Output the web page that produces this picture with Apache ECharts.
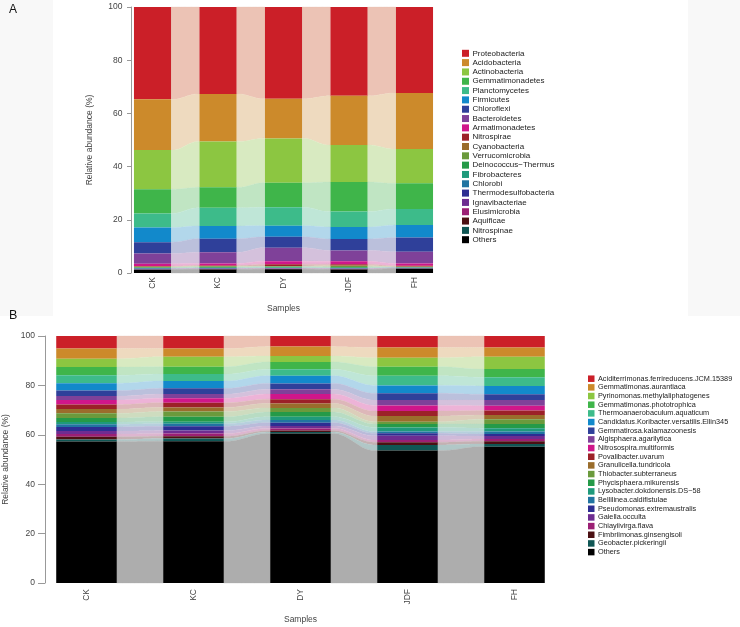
<!DOCTYPE html>
<html><head><meta charset="utf-8">
<script src="https://cdn.jsdelivr.net/npm/echarts@6/dist/echarts.min.js"></script>
<style>html,body{margin:0;padding:0;background:#fff}#c{width:740px;height:627px}</style>
</head><body><div id="c"></div>
<script>
// ---------- data ----------
const samples = ['CK', 'KC', 'DY', 'JDF', 'FH'];
const yTicks = [0, 20, 40, 60, 80, 100];

const phylaNames = ['Proteobacteria', 'Acidobacteria', 'Actinobacteria', 'Gemmatimonadetes', 'Planctomycetes',
  'Firmicutes', 'Chloroflexi', 'Bacteroidetes', 'Armatimonadetes', 'Nitrospirae', 'Cyanobacteria',
  'Verrucomicrobia', 'Deinococcus\u2212Thermus', 'Fibrobacteres', 'Chlorobi', 'Thermodesulfobacteria',
  'Ignavibacteriae', 'Elusimicrobia', 'Aquificae', 'Nitrospinae', 'Others'];
const phylaCK  = [34.7, 19.1, 14.7, 9.1, 5.3, 5.5, 4.3, 3.8, 0.9, 0.2, 0.1, 0.25, 0.2, 0.1, 0.12, 0.08, 0.1, 0.1, 0.05, 0.05, 1.25];
const phylaKC  = [32.7, 17.9, 17.2, 7.7, 6.8, 4.8, 5.1, 4.2, 0.8, 0.2, 0.08, 0.3, 0.25, 0.12, 0.15, 0.08, 0.12, 0.1, 0.05, 0.05, 1.3];
const phylaDY  = [34.5, 14.9, 16.7, 9.2, 6.9, 4.2, 4.1, 5.1, 1.1, 0.7, 0.1, 0.15, 0.3, 0.15, 0.12, 0.08, 0.1, 0.1, 0.05, 0.05, 1.4];
const phylaJDF = [33.4, 18.5, 13.9, 11.1, 5.8, 4.5, 4.3, 4.1, 1.1, 0.5, 0.2, 0.35, 0.3, 0.15, 0.12, 0.08, 0.1, 0.1, 0.05, 0.05, 1.3];
const phylaFH  = [32.3, 21.1, 12.9, 9.6, 6.1, 4.7, 5.3, 4.4, 0.9, 0.3, 0.1, 0.15, 0.1, 0.1, 0.07, 0.05, 0.08, 0.05, 0.05, 0.05, 1.6];

const speciesNames = ['Aciditerrimonas.ferrireducens.JCM.15389', 'Gemmatimonas.aurantiaca',
  'Pyrinomonas.methylaliphatogenes', 'Gemmatimonas.phototrophica', 'Thermoanaerobaculum.aquaticum',
  'Candidatus.Koribacter.versatilis.Ellin345', 'Gemmatirosa.kalamazoonesis', 'Algisphaera.agarilytica',
  'Nitrosospira.multiformis', 'Povalibacter.uvarum', 'Granulicella.tundricola', 'Thiobacter.subterraneus',
  'Phycisphaera.mikurensis', 'Lysobacter.dokdonensis.DS\u221258', 'Bellilinea.caldifistulae',
  'Pseudomonas.extremaustralis', 'Gaiella.occulta', 'Chiayiivirga.flava', 'Fimbriimonas.ginsengisoli',
  'Geobacter.pickeringii', 'Others'];
const speciesCK  = [5.1, 4.1, 3.4, 3.3, 3.2, 3.0, 2.2, 1.6, 1.8, 1.9, 1.7, 1.9, 1.6, 0.9, 1.1, 1.7, 1.2, 1.1, 1.1, 0.8, 57.3];
const speciesKC  = [5.1, 3.3, 4.0, 3.0, 2.8, 3.0, 2.3, 1.7, 1.8, 1.9, 1.7, 2.1, 2.0, 0.8, 1.0, 1.8, 1.2, 1.1, 0.9, 1.1, 57.4];
const speciesDY  = [4.3, 3.8, 2.4, 3.0, 2.6, 3.1, 2.4, 1.9, 2.1, 1.7, 1.8, 1.7, 1.9, 1.3, 1.1, 1.3, 1.0, 0.9, 0.6, 0.6, 60.5];
const speciesJDF = [4.7, 4.1, 3.6, 3.7, 3.9, 3.2, 2.7, 2.2, 2.3, 2.0, 2.3, 0.9, 1.4, 1.7, 0.7, 1.0, 1.7, 0.9, 1.1, 2.3, 53.6];
const speciesFH  = [4.7, 3.7, 5.0, 3.3, 3.5, 3.4, 2.3, 2.3, 2.0, 1.8, 1.7, 1.9, 1.7, 1.4, 1.0, 0.8, 1.2, 0.9, 1.1, 1.1, 55.2];

const layerColors = ['#CB1F28', '#CC8A2B', '#8CC641', '#3FB54A', '#3DBB8A', '#1289CB', '#2F409A', '#7F4199',
  '#D0168A', '#9C2128', '#9A6D2C', '#6B9A3C', '#259A48', '#1F9A7B', '#2174A1', '#2D2E92', '#6E2D91',
  '#9B1F74', '#4B1013', '#0F5654', '#000000'];
// flow (ribbon) tints that deviate from a plain alpha blend
const flowOverride = { 0: '#ECC3B5', 1: '#EEDABF' };

// ---------- helpers ----------
const HALF = 0.283;      // half bar width in category units
const FLOW_ALPHA = 0.31;

function lighten(hex, a) {
  const n = parseInt(hex.slice(1), 16);
  const r = (n >> 16) & 255, g = (n >> 8) & 255, b = n & 255;
  const m = v => Math.round(250 - a * (250 - v));
  return 'rgb(' + m(r) + ',' + m(g) + ',' + m(b) + ')';
}

function bounds(cols) {
  return cols.map(vals => {
    const lo = new Array(vals.length), hi = new Array(vals.length);
    let acc = 0;
    for (let k = vals.length - 1; k >= 0; k--) { lo[k] = acc; acc += vals[k]; hi[k] = acc; }
    return { lo, hi };
  });
}

function buildData(cols) {
  const b = bounds(cols);
  const data = [];
  const nL = cols[0].length;
  for (let i = 0; i < cols.length - 1; i++) {
    for (let k = 0; k < nL; k++) {
      data.push([i, b[i].lo[k], b[i].hi[k], k, 1, b[i + 1].lo[k], b[i + 1].hi[k]]);
    }
  }
  for (let i = 0; i < cols.length; i++) {
    for (let k = 0; k < nL; k++) {
      data.push([i, b[i].lo[k], b[i].hi[k], k, 0, 0, 0]);
    }
  }
  return data;
}

function smooth(t) {
  const u = Math.min(1, Math.max(0, (t - 0.08) / 0.84));
  return u * u * (3 - 2 * u);
}

function renderItem(params, api) {
  const i = api.value(0), lo = api.value(1), hi = api.value(2), k = api.value(3), kind = api.value(4);
  const col = layerColors[k];
  if (kind === 0) {
    const p1 = api.coord([i - HALF, hi]);
    const p2 = api.coord([i + HALF, lo]);
    return { type: 'rect', shape: { x: p1[0], y: p1[1], width: p2[0] - p1[0], height: p2[1] - p1[1] },
      style: { fill: col }, z2: 10 };
  }
  const lo2 = api.value(5), hi2 = api.value(6);
  const xa = i + HALF, xb = i + 1 - HALF;
  const N = 24, top = [], bot = [];
  for (let s = 0; s <= N; s++) {
    const t = s / N, f = smooth(t), x = xa + t * (xb - xa);
    top.push(api.coord([x, hi + f * (hi2 - hi)]));
    bot.push(api.coord([x, lo + f * (lo2 - lo)]));
  }
  const pts = top.concat(bot.reverse());
  const lc = flowOverride[k] || lighten(col, FLOW_ALPHA);
  return { type: 'polygon', shape: { points: pts }, style: { fill: lc, stroke: lc, lineWidth: 0.3 }, z2: 1 };
}

function legend(names, x, y0, step, size, fontSize) {
  const els = [];
  names.forEach((n, k) => {
    const cy = y0 + k * step;
    els.push({ type: 'rect', left: x, top: cy - size / 2, shape: { width: size, height: size },
      style: { fill: layerColors[k] } });
    els.push({ type: 'text', x: x + size + 3.5, y: cy, style: { text: n, fill: '#222', fontSize: fontSize,
      fontFamily: 'Liberation Sans, Arial, sans-serif', verticalAlign: 'middle', align: 'left' } });
  });
  return els;
}

const axisFont = 'Liberation Sans, Arial, sans-serif';
function xAxisCfg(gi, margin, nameGap) {
  return {
    type: 'value', gridIndex: gi, min: 0, max: 4, interval: 1,
    axisLine: { show: false }, axisTick: { show: false }, splitLine: { show: false },
    axisLabel: { rotate: 90, margin: margin, fontSize: 8.5, color: '#444', fontFamily: axisFont,
      formatter: v => samples[Math.round(v)] || '' },
    name: 'Samples', nameLocation: 'middle', nameGap: nameGap,
    nameTextStyle: { fontSize: 8.5, color: '#444', fontFamily: axisFont }
  };
}
function yAxisCfg(gi, offset, tickLen, margin, nameGap) {
  return {
    type: 'value', gridIndex: gi, min: yTicks[0], max: yTicks[yTicks.length - 1], interval: yTicks[1] - yTicks[0],
    offset: offset,
    axisLine: { show: true, onZero: false, lineStyle: { color: '#999', width: 1 } },
    axisTick: { show: true, length: tickLen, lineStyle: { color: '#999' } },
    splitLine: { show: false },
    axisLabel: { margin: margin, fontSize: 8.5, color: '#444', fontFamily: axisFont },
    name: 'Relative abundance (%)', nameLocation: 'middle', nameGap: nameGap, nameRotate: 90,
    nameTextStyle: { fontSize: 8.5, color: '#444', fontFamily: axisFont }
  };
}

const chart = echarts.init(document.getElementById('c'), null, { renderer: 'canvas' });
const option = {
  animation: false,
  backgroundColor: '#ffffff',
  grid: [
    { left: 152.5, width: 262, top: 7, height: 266, containLabel: false, outerBoundsMode: 'none' },
    { left: 86.5, width: 428, top: 336, height: 247, containLabel: false, outerBoundsMode: 'none' }
  ],
  xAxis: [xAxisCfg(0, 4, 31), xAxisCfg(1, 6, 32)],
  yAxis: [yAxisCfg(0, 21.5, 4, 8.5, 37), yAxisCfg(1, 41.5, 7, 10, 34.5)],
  series: [
    { type: 'custom', xAxisIndex: 0, yAxisIndex: 0, clip: false, renderItem: renderItem,
      data: buildData([phylaCK, phylaKC, phylaDY, phylaJDF, phylaFH]) },
    { type: 'custom', xAxisIndex: 1, yAxisIndex: 1, clip: false, renderItem: renderItem,
      data: buildData([speciesCK, speciesKC, speciesDY, speciesJDF, speciesFH]) }
  ],
  graphic: [
    { type: 'rect', left: 0, top: 0, z: -10, shape: { width: 53, height: 316 }, style: { fill: '#f8f8f8' } },
    { type: 'rect', left: 688, top: 0, z: -10, shape: { width: 52, height: 316 }, style: { fill: '#f8f8f8' } },
    { type: 'text', x: 9, y: 10, style: { text: 'A', fontSize: 12, fill: '#111', fontFamily: axisFont, verticalAlign: 'middle' } },
    { type: 'text', x: 9, y: 316, style: { text: 'B', fontSize: 12.5, fill: '#111', fontFamily: axisFont, verticalAlign: 'middle' } }
  ].concat(legend(phylaNames, 462, 53.3, 9.32, 7, 8))
   .concat(legend(speciesNames, 588, 378.7, 8.67, 6.5, 7.3))
};
chart.setOption(option);
</script>
</body></html>
